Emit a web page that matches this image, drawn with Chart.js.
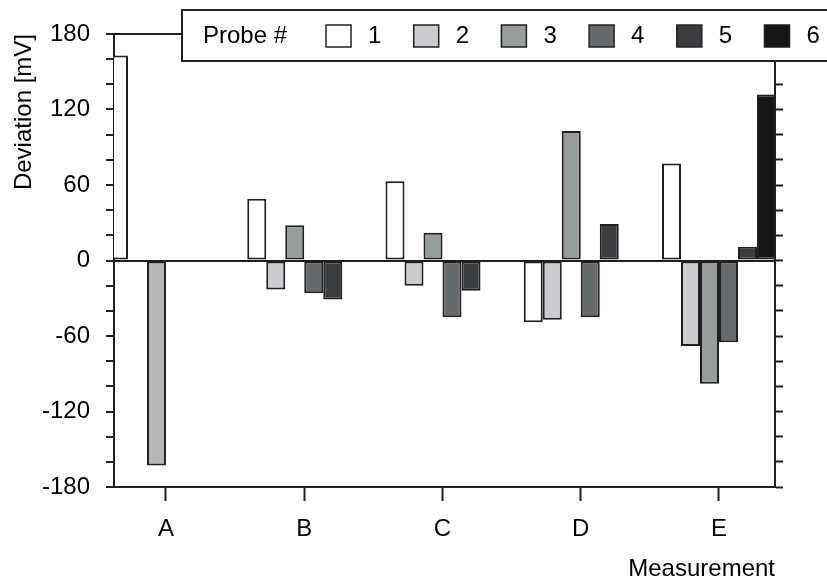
<!DOCTYPE html>
<html>
<head>
<meta charset="utf-8">
<script src="https://cdn.jsdelivr.net/npm/chart.js@4/dist/chart.umd.min.js"></script>
<style>
  html, body { margin: 0; padding: 0; background: #fff; }
  canvas { display: block; }
</style>
</head>
<body>
<canvas id="chart" width="827" height="584"></canvas>
<script>
// valores (mV)
const categories = ['A', 'B', 'C', 'D', 'E'];
const probeNames = ['1', '2', '3', '4', '5', '6'];
const probe1 = [163, 49, 63, -49, 77];
const probe2 = [null, -23, -20, -47, -68];
const probe3 = [-163, 28, 22, 103, -98];
const probe4 = [null, -26, -45, -45, -65];
const probe5 = [null, -31, -24, 29, 11];
const probe6 = [null, null, null, null, 132];
const yTicks = [-180, -120, -60, 0, 60, 120, 180];

const INK = '#231f20';
const FONT = "'Liberation Sans', Arial, sans-serif";
const fills = ['#ffffff', '#cbccd0', '#979d9d', '#656b6d', '#393d3f', '#151617'];

const series = [probe1, probe2, probe3, probe4, probe5, probe6];
const datasets = series.map((vals, k) => ({
  label: probeNames[k],
  data: vals.map((v, i) => ({ x: i, y: v })),
  // la barra de A (sonda 3) sale algo más clara en la figura
  backgroundColor: k === 2 ? vals.map((v, i) => i === 0 ? '#b3b6b6' : fills[k]) : fills[k],
  legendColor: fills[k],
  borderColor: INK,
  borderWidth: 2,
  borderSkipped: false,
  categoryPercentage: 0.8246,
  barPercentage: 1
}));

// marco superior + leyenda en caja
const frameLegend = {
  id: 'frameLegend',
  afterDraw(chart) {
    const { ctx, chartArea: a } = chart;
    ctx.save();
    ctx.strokeStyle = INK;
    ctx.lineWidth = 2;
    ctx.beginPath();
    ctx.moveTo(a.left, a.top);
    ctx.lineTo(a.right, a.top);
    ctx.stroke();

    ctx.fillStyle = '#fff';
    ctx.fillRect(182, 10, 660, 51);
    ctx.strokeRect(182, 10, 660, 51);

    ctx.font = '24px ' + FONT;
    ctx.textBaseline = 'middle';
    ctx.fillStyle = '#000';
    ctx.fillText('Probe #', 203, 36);

    chart.data.datasets.forEach((ds, k) => {
      const x = 326 + k * 87.7;
      ctx.fillStyle = ds.legendColor;
      ctx.fillRect(x, 25, 25, 22);
      ctx.lineWidth = 1.5;
      ctx.strokeStyle = INK;
      ctx.strokeRect(x, 25, 25, 22);
      ctx.fillStyle = '#000';
      ctx.fillText(ds.label, x + 42, 36);
    });
    ctx.restore();
  }
};

new Chart(document.getElementById('chart'), {
  type: 'bar',
  data: { datasets },
  options: {
    responsive: false,
    animation: false,
    layout: { padding: { top: 34, left: 0, right: 0, bottom: 0 } },
    plugins: { legend: { display: false }, tooltip: { enabled: false } },
    scales: {
      x: {
        type: 'linear',
        position: 'bottom',
        offset: false,
        min: -0.3761,
        max: 4.4051,
        afterBuildTicks: s => { s.ticks = categories.map((c, i) => ({ value: i })); },
        afterFit: s => { s.height = 97; },
        border: { display: true, color: INK, width: 2 },
        grid: { offset: false, drawOnChartArea: false, drawTicks: true, tickLength: 14, tickColor: INK, tickWidth: 2 },
        ticks: {
          autoSkip: false,
          maxRotation: 0,
          padding: 14,
          color: '#000',
          font: { family: FONT, size: 24 },
          callback: v => categories[v] ?? ''
        },
        title: {
          display: true,
          text: 'Measurement',
          align: 'end',
          color: '#000',
          font: { family: FONT, size: 24 },
          padding: { top: 0, bottom: 0 }
        }
      },
      y: {
        position: 'left',
        min: -180,
        max: 180,
        afterFit: s => { s.width = 114; },
        border: { display: true, color: INK, width: 2 },
        grid: {
          drawOnChartArea: true,
          drawTicks: true,
          tickLength: 8,
          tickColor: INK,
          tickWidth: 2,
          lineWidth: 2,
          color: c => c.tick && c.tick.value === 0 ? INK : 'rgba(0,0,0,0)'
        },
        ticks: {
          stepSize: 20,
          autoSkip: false,
          padding: 16,
          color: '#000',
          font: { family: FONT, size: 24 },
          callback: v => yTicks.includes(v) ? String(v) : ''
        },
        title: {
          display: true,
          text: 'Deviation [mV]',
          align: 'end',
          color: '#000',
          font: { family: FONT, size: 24 },
          padding: { top: 10, bottom: 0 }
        }
      },
      y2: {
        position: 'right',
        min: -180,
        max: 180,
        afterFit: s => { s.width = 52; },
        border: { display: true, color: INK, width: 2 },
        grid: { drawOnChartArea: false, drawTicks: true, tickLength: 8, tickColor: INK, tickWidth: 2 },
        ticks: { stepSize: 20, autoSkip: false, padding: 0, callback: () => '' }
      }
    }
  },
  plugins: [frameLegend]
});
</script>
</body>
</html>
